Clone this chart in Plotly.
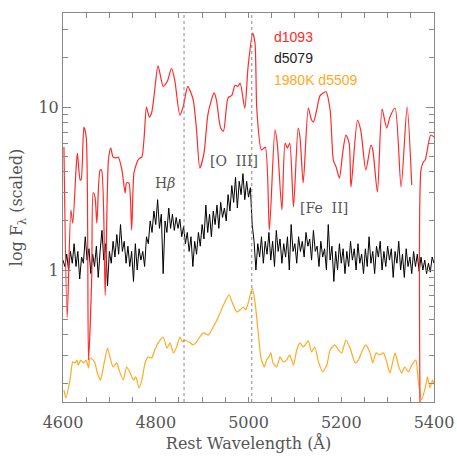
import numpy as np
import plotly.graph_objects as go

# d1093 spectrum (red)
red_wave = [4602, 4609, 4617, 4621, 4628, 4631, 4637, 4639, 4645, 4650,
            4655, 4662, 4665, 4669, 4673, 4680, 4683, 4691, 4698, 4703,
            4708, 4714, 4719, 4727, 4734, 4737, 4742, 4748, 4753, 4759,
            4762, 4766, 4770, 4775, 4780, 4786, 4791, 4797, 4805, 4816,
            4825, 4834, 4841, 4852, 4859, 4869, 4875, 4881, 4888, 4895,
            4904, 4913, 4926, 4931, 4940, 4946, 4956, 4964, 4971, 4977,
            4982, 4992, 4999, 5009, 5014, 5018, 5028, 5036, 5045, 5057,
            5062, 5072, 5079, 5084, 5089, 5097, 5107, 5111, 5118, 5129,
            5136, 5140, 5147, 5154, 5161, 5167, 5176, 5183, 5189, 5196,
            5203, 5210, 5217, 5221, 5235, 5242, 5253, 5264, 5268, 5278,
            5288, 5298, 5305, 5316, 5329, 5342, 5352, 5360, 5371, 5372,
            5377, 5381, 5393, 5400]
red_flux = [5.68, 0.51, 2.33, 1.94, 4.11, 5.22, 3.57, 3.57, 7.54, 6.55,
            0.28, 0.91, 2.97, 2.80, 1.94, 4.11, 4.11, 0.70, 4.73, 5.60,
            4.93, 4.87, 4.93, 4.11, 2.97, 3.42, 3.42, 1.76, 3.93, 4.53,
            4.73, 4.87, 4.93, 6.55, 10.0, 8.68, 9.19, 12.2, 17.9, 13.4,
            14.4, 17.3, 14.6, 8.93, 10.0, 13.4, 12.4, 11.0, 7.22, 4.22,
            5.22, 9.19, 12.2, 11.0, 7.43, 7.12, 11.4, 11.8, 13.6, 13.4,
            14.0, 9.86, 17.6, 28.4, 24.7, 9.59, 5.45, 5.68, 1.76, 7.22,
            6.01, 2.33, 6.01, 5.60, 6.01, 2.44, 7.43, 6.55, 3.42, 9.86,
            8.32, 8.09, 9.59, 11.7, 12.2, 12.4, 9.59, 4.73, 4.28, 3.67,
            5.22, 6.73, 6.01, 3.23, 8.32, 7.22, 4.11, 5.85, 5.45, 3.01,
            9.7, 7.43, 8.68, 9.86, 3.23, 10.0, 3.32, None, 0.05, 4.11,
            4.60, 4.73, 6.73, 6.55]

# d5079 spectrum (black), 4 A sampling
black_wave = np.arange(4600, 5401, 4)
black_flux = [1.15, 1.05, 1.25, 1.0, 1.3, 1.1, 1.45, 1.05, 1.3, 0.88,
              1.2, 1.1, 1.6, 1.15, 1.35, 0.95, 1.25, 1.05, 1.4, 0.9,
              1.3, 1.75, 1.15, 1.45, 0.8, 1.3, 1.1, 1.5, 1.2, 1.65,
              1.25, 1.9, 1.3, 1.5, 1.1, 1.4, 1.05, 1.3, 0.85, 1.45,
              1.0, 1.35, 1.15, 1.3, 1.05, 1.6, 1.45, 2.0, 1.7, 2.3,
              1.9, 2.7, 1.8, 2.2, 0.95, 2.0, 1.7, 2.4, 1.8, 2.2,
              1.75, 2.1, 1.8, 2.05, 1.6, 1.85, 1.45, 1.7, 1.3, 1.6,
              1.05, 1.5, 1.25, 1.7, 1.4, 1.9, 1.55, 2.5, 1.7, 2.2,
              1.6, 2.3, 1.9, 2.5, 1.8, 2.6, 2.1, 2.4, 2.0, 2.9,
              2.3, 3.3, 2.6, 3.7, 2.4, 3.5, 2.9, 3.9, 2.7, 3.5,
              2.8, 3.2, 1.9, 1.5, 1.0, 1.45, 1.2, 1.6, 1.1, 1.5,
              1.25, 1.7, 1.15, 1.5, 1.05, 1.75, 1.3, 1.55, 1.1, 1.45,
              1.2, 1.6, 1.0, 1.9, 1.3, 1.45, 1.1, 1.6, 1.3, 1.5,
              1.2, 1.7, 1.4, 1.55, 1.15, 1.75, 1.3, 1.4, 1.05, 1.5,
              1.2, 1.35, 1.0, 1.9, 1.15, 1.4, 0.85, 1.3, 1.0, 1.45,
              1.1, 1.35, 0.95, 1.3, 1.05, 1.5, 1.15, 1.35, 1.0, 1.45,
              1.1, 1.25, 0.95, 1.35, 1.05, 1.6, 1.1, 1.3, 0.95, 1.4,
              1.2, 1.5, 1.0, 1.3, 1.05, 1.4, 1.15, 1.35, 0.9, 1.3,
              1.1, 1.5, 1.0, 1.25, 0.9, 1.35, 1.05, 1.2, 0.95, 1.3,
              1.05, 1.25, 0.98, 1.2, 1.0, 1.15, 0.95, 1.1, 0.97, 1.2,
              1.1]

# 1980K d5509 spectrum (orange)
orange_wave = [4602, 4606, 4615, 4621, 4626, 4630, 4633, 4638, 4644, 4650,
               4655, 4658, 4665, 4669, 4674, 4681, 4687, 4696, 4701, 4708,
               4716, 4721, 4730, 4737, 4744, 4752, 4757, 4764, 4770, 4777,
               4784, 4791, 4798, 4805, 4816, 4824, 4831, 4838, 4845, 4852,
               4858, 4863, 4874, 4881, 4888, 4895, 4903, 4913, 4924, 4935,
               4946, 4958, 4967, 4975, 4982, 4989, 4994, 5000, 5008, 5014,
               5021, 5027, 5034, 5039, 5044, 5048, 5053, 5061, 5068, 5075,
               5082, 5089, 5097, 5104, 5111, 5118, 5129, 5136, 5143, 5151,
               5160, 5169, 5176, 5186, 5194, 5201, 5210, 5219, 5230, 5237,
               5246, 5253, 5262, 5268, 5275, 5282, 5291, 5298, 5305, 5316,
               5323, 5330, 5337, 5345, 5352, 5361, 5366, 5373, 5381, 5386,
               5391, 5397, 5400]
orange_flux = [0.184, 0.164, 0.211, 0.273, 0.269, 0.280, 0.261, 0.280, 0.269, 0.280,
               0.250, 0.288, 0.280, 0.269, 0.233, 0.211, 0.254, 0.332, 0.293, 0.254,
               0.269, 0.243, 0.211, 0.254, 0.237, 0.211, 0.221, 0.189, 0.211, 0.269,
               0.293, 0.288, 0.323, 0.357, 0.388, 0.332, 0.357, 0.310, 0.337, 0.388,
               0.362, 0.372, 0.357, 0.347, 0.362, 0.388, 0.411, 0.400, 0.447, 0.515,
               0.610, 0.703, 0.610, 0.552, 0.570, 0.593, 0.570, 0.637, 0.775, 0.637,
               0.411, 0.288, 0.254, 0.280, 0.293, 0.310, 0.269, 0.254, 0.293, 0.273,
               0.280, 0.301, 0.261, 0.323, 0.357, 0.337, 0.367, 0.314, 0.337, 0.273,
               0.237, 0.261, 0.323, 0.347, 0.323, 0.310, 0.372, 0.332, 0.269, 0.280,
               0.323, 0.347, 0.310, 0.269, 0.310, 0.301, 0.310, 0.273, 0.233, 0.310,
               0.261, 0.233, 0.254, 0.237, 0.261, 0.280, 0.211, 0.159, 0.189, 0.221,
               0.189, 0.211, 0.198]

line_waves = [4861, 5007]

RED = "#ff2a2a"
ORANGE = "#ffaa22"
AXIS = "#888888"
TXT = "#555555"
SERIF = "DejaVu Serif"

fig = go.Figure()
fig.add_trace(go.Scatter(x=black_wave, y=black_flux, mode="lines",
                         line=dict(color="black", width=1)))
fig.add_trace(go.Scatter(x=orange_wave, y=orange_flux, mode="lines",
                         line=dict(color=ORANGE, width=1.2, shape="spline", smoothing=0.5)))
fig.add_trace(go.Scatter(x=red_wave, y=red_flux, mode="lines",
                         line=dict(color=RED, width=1.2, shape="spline", smoothing=0.7),
                         connectgaps=False))

for w in line_waves:
    fig.add_shape(type="line", x0=w, x1=w, y0=0, y1=1, yref="paper",
                  line=dict(color=AXIS, width=1, dash="dot"))

# line labels
fig.add_annotation(x=4820, y=0.534, text="H<i>β</i>", showarrow=False,
                   font=dict(family=SERIF, size=14, color=TXT))
fig.add_annotation(x=4969, y=0.669, text="[O  III]", showarrow=False,
                   font=dict(family=SERIF, size=14, color=TXT))
fig.add_annotation(x=5162, y=0.380, text="[Fe  II]", showarrow=False,
                   font=dict(family=SERIF, size=14, color=TXT))

# legend texts
for txt, col, yv in [("d1093", RED, 1.429), ("d5079", "#222222", 1.301),
                     ("1980K d5509", ORANGE, 1.166)]:
    fig.add_annotation(x=5051, y=yv, text=txt, showarrow=False, xanchor="left",
                       font=dict(family="Liberation Sans", size=14, color=col))

fig.update_xaxes(range=[4600, 5400], showgrid=False, zeroline=False,
                 automargin=False,
                 showline=True, linecolor=AXIS, linewidth=1, mirror="ticks",
                 ticks="inside", ticklen=5, tickcolor=AXIS, dtick=200,
                 ticklabelstandoff=6,
                 minor=dict(dtick=50, ticks="inside", ticklen=5, tickcolor=AXIS),
                 tickfont=dict(family=SERIF, size=16, color=TXT),
                 title=dict(text="Rest Wavelength (Å)", standoff=6,
                            font=dict(family=SERIF, size=16, color=TXT)))
fig.update_yaxes(type="log", range=[-0.81, 1.577], showgrid=False,
                 automargin=False,
                 showline=True, linecolor=AXIS, linewidth=1, mirror="ticks",
                 ticks="inside", ticklen=8, tickcolor=AXIS,
                 tickmode="array", tickvals=[1, 10], ticktext=["1", "10"],
                 minor=dict(tickmode="array", ticks="inside", ticklen=5, tickcolor=AXIS,
                            tickvals=[0.2, 0.3, 0.4, 0.5, 0.6, 0.7, 0.8, 0.9,
                                      2, 3, 4, 5, 6, 7, 8, 9, 20, 30]),
                 tickfont=dict(family=SERIF, size=16, color=TXT),
                 title=dict(text="log F<sub>λ</sub> (scaled)", standoff=11,
                            font=dict(family=SERIF, size=16, color=TXT)))

fig.update_layout(width=457, height=457, showlegend=False,
                  plot_bgcolor="white", paper_bgcolor="white",
                  margin=dict(l=63, r=23, t=13, b=55))

# drop the page's default body margin so the figure sits at the window corner
fig.write_html("out.html", config={"displayModeBar": False},
               post_script="document.body.style.margin='0';")
